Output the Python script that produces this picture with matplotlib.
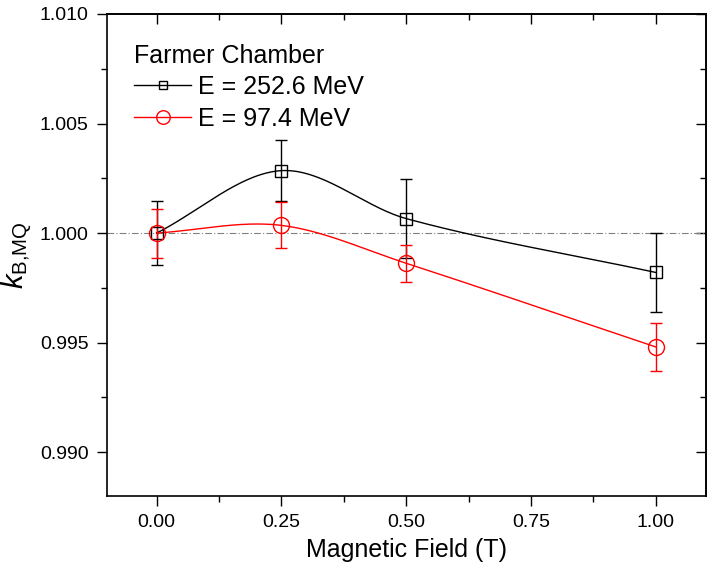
import numpy as np
import matplotlib
matplotlib.use("Agg")
import matplotlib.pyplot as plt
from matplotlib.ticker import MultipleLocator, FormatStrFormatter

plt.rcParams['font.family'] = ['Liberation Sans', 'DejaVu Sans']
plt.rcParams['mathtext.fontset'] = 'custom'
plt.rcParams['mathtext.rm'] = 'Liberation Sans'
plt.rcParams['mathtext.it'] = 'Liberation Sans:italic'

# data
field = [0.0, 0.25, 0.5, 1.0]
k_252 = [1.0000, 1.00285, 1.00066, 0.99820]
err_252 = [0.00145, 0.00138, 0.00180, 0.00182]
k_97 = [1.0000, 1.00035, 0.99862, 0.99480]
err_97 = [0.00112, 0.00105, 0.00085, 0.00110]
labels = ["E = 252.6 MeV", "E = 97.4 MeV"]
legend_title = "Farmer Chamber"


def smooth_connect(x, y, n=60):
    """cubic hermite connector (catmull-rom style tangents) between data points"""
    x = np.asarray(x, float)
    y = np.asarray(y, float)
    m = np.zeros_like(y)
    m[0] = (y[1] - y[0]) / (x[1] - x[0])
    m[-1] = (y[-1] - y[-2]) / (x[-1] - x[-2])
    for i in range(1, len(x) - 1):
        m[i] = (y[i + 1] - y[i - 1]) / (x[i + 1] - x[i - 1])
    xs, ys = [], []
    for i in range(len(x) - 1):
        h = x[i + 1] - x[i]
        t = np.linspace(0, 1, n)
        h00 = 2 * t**3 - 3 * t**2 + 1
        h10 = t**3 - 2 * t**2 + t
        h01 = -2 * t**3 + 3 * t**2
        h11 = t**3 - t**2
        xs.append(x[i] + t * h)
        ys.append(h00 * y[i] + h10 * h * m[i] + h01 * y[i + 1] + h11 * h * m[i + 1])
    return np.concatenate(xs), np.concatenate(ys)


fig = plt.figure(figsize=(7.09, 5.76), dpi=100)
ax = fig.add_axes([0.1505, 0.139, 0.845, 0.8367])

ax.axhline(1.0, color="#808080", linestyle=(0, (6, 2, 1, 2)), linewidth=0.8, zorder=1)

for y, err, color, marker, ms, label in zip([k_252, k_97], [err_252, err_97], ["black", "red"],
                                            ["s", "o"], [8, 11.5], labels):
    xs, ys = smooth_connect(field, y)
    ax.plot(xs, ys, color=color, linewidth=1.0, zorder=2)
    ax.errorbar(field, y, yerr=err, fmt="none", ecolor=color, elinewidth=1.0,
                capsize=4, capthick=1.0, zorder=3)
    ax.plot(field, y, linestyle="none", marker=marker, markersize=ms, mfc="none",
            mec=color, mew=1.0, zorder=4)
    # legend proxy
    ax.plot([], [], color=color, marker=marker, markersize=ms * 0.85 if marker == "o" else ms * 0.75,
            mfc="none", mec=color, mew=1.0, linewidth=1.0, label=label)

ax.set_xlim(-0.1, 1.1)
ax.set_ylim(0.988, 1.010)
ax.xaxis.set_major_locator(MultipleLocator(0.25))
ax.xaxis.set_minor_locator(MultipleLocator(0.125))
ax.yaxis.set_major_locator(MultipleLocator(0.005))
ax.yaxis.set_minor_locator(MultipleLocator(0.0025))
ax.xaxis.set_major_formatter(FormatStrFormatter("%.2f"))
ax.yaxis.set_major_formatter(FormatStrFormatter("%.3f"))

ax.tick_params(which="both", direction="out", top=False, right=False, labelsize=14, width=1.0)
ax.tick_params(which="major", length=7, pad=6)
ax.tick_params(which="minor", length=4)
# inward ticks on top and right, no labels
sec_x = ax.secondary_xaxis("top")
sec_x.xaxis.set_major_locator(MultipleLocator(0.25))
sec_x.xaxis.set_minor_locator(MultipleLocator(0.125))
sec_x.tick_params(which="both", direction="in", labeltop=False, width=1.0)
sec_x.tick_params(which="major", length=7)
sec_x.tick_params(which="minor", length=4)
sec_y = ax.secondary_yaxis("right")
sec_y.yaxis.set_major_locator(MultipleLocator(0.005))
sec_y.yaxis.set_minor_locator(MultipleLocator(0.0025))
sec_y.tick_params(which="both", direction="in", labelright=False, width=1.0)
sec_y.tick_params(which="major", length=7)
sec_y.tick_params(which="minor", length=4)

for s in ax.spines.values():
    s.set_linewidth(1.2)
sec_x.spines["top"].set_linewidth(1.2)
sec_y.spines["right"].set_linewidth(1.2)

ax.set_xlabel("Magnetic Field (T)", fontsize=18, labelpad=5)
ax.set_ylabel(r"$\mathit{k}_{\mathrm{B{,}MQ}}$", fontsize=21)
ax.yaxis.set_label_coords(-0.12, 0.5)

leg = ax.legend(loc="upper left", bbox_to_anchor=(0.017, 0.975), frameon=False, fontsize=18,
                title=legend_title, title_fontsize=18, handlelength=2.25, handletextpad=0.3,
                labelspacing=0.3, borderpad=0.2)
leg._legend_box.align = "left"

fig.savefig("out.png", dpi=100)
